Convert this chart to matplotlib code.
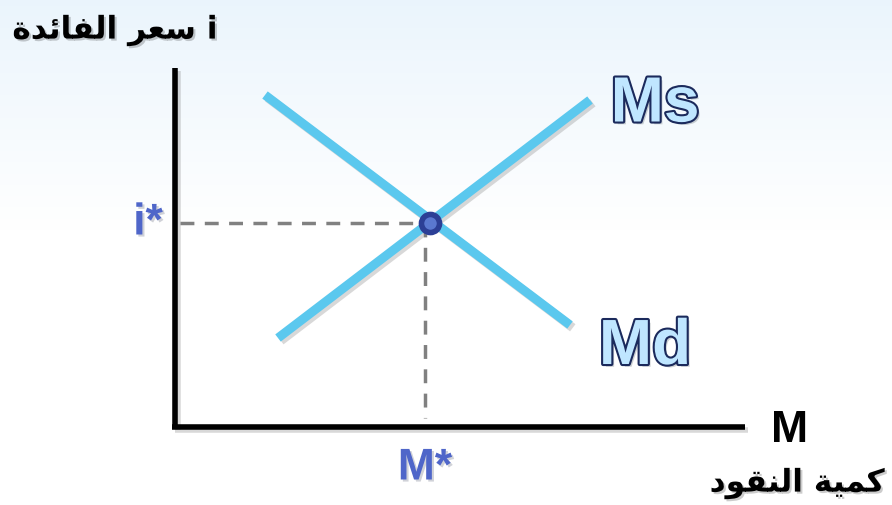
import numpy as np
import matplotlib
matplotlib.use("Agg")
import matplotlib.pyplot as plt
import matplotlib.patheffects as pe

# money market: supply / demand of money (quantity M, interest rate i)
ms_q = [2.06, 8.3]
ms_i = [1.78, 6.54]
md_q = [1.8, 7.9]
md_i = [6.64, 2.04]
eq_q = 5.1
eq_i = 4.08

# Arabic labels in presentation forms (visual order) since matplotlib does not shape Arabic
y_label = "\uFE93\uFEAA\uFE8B\uFE8E\uFED4\uFEDF\uFE8D \uFEAE\uFECC\uFEB3"  # سعر الفائدة
x_label = "\uFEA9\uFEEE\uFED8\uFEE8\uFEDF\uFE8D \uFE94\uFEF4\uFEE4\uFEDB"  # كمية النقود

fig = plt.figure(figsize=(8.92, 5.05), dpi=100)
ax = fig.add_axes([0, 0, 1, 1])
ax.set_xlim(-3.5, 14.34)
ax.set_ylim(-1.56, 8.54)
ax.axis("off")

# soft blue-to-white background
grad = np.linspace(0, 1, 256).reshape(-1, 1)
grad = np.clip(grad * 2.2, 0, 1)
top = np.array([0.92, 0.96, 0.99])
img = top + (1 - top) * grad[..., None]
ax.imshow(img, extent=(-3.5, 14.34, -1.56, 8.54), aspect="auto", zorder=0,
          origin="upper")

shadow = [pe.SimpleLineShadow(offset=(2, -2), alpha=0.3, shadow_color="gray"), pe.Normal()]
txt_shadow = [pe.withSimplePatchShadow(offset=(1.5, -1.5), alpha=0.2)]

# axes lines
ax.plot([0, 0], [0, 7.18], color="black", lw=4, solid_capstyle="butt",
        path_effects=shadow, zorder=3)
ax.plot([-0.06, 11.4], [0, 0], color="black", lw=4, solid_capstyle="butt",
        path_effects=shadow, zorder=3)

# curves
curve_kw = dict(color="#5BC8EE", lw=6.5, solid_capstyle="butt", path_effects=shadow, zorder=4)
ax.plot(ms_q, ms_i, **curve_kw)
ax.plot(md_q, md_i, **curve_kw)

# dashed guides
ax.plot([0.1, eq_q], [eq_i, eq_i], color="#808080", lw=2.5, ls=(0, (4, 3)), zorder=2)
ax.plot([eq_q - 0.1, eq_q - 0.1], [eq_i, 0.18], color="#808080", lw=2.5, ls=(0, (4, 3)), zorder=2)

# equilibrium point
ax.scatter([eq_q], [eq_i], s=170, color="#5A78D0", edgecolors="#2C3F96", linewidths=4, zorder=6)

# labels
star_kw = dict(color="#4F66C9", fontsize=32, fontweight="bold", family="Liberation Sans",
               path_effects=txt_shadow)
ax.text(-0.54, eq_i, "i*", ha="center", va="center", **star_kw)
ax.text(eq_q - 0.1, -0.82, "M*", ha="center", va="center", **star_kw)

curve_lbl = dict(color="#BFE6FF", fontsize=46, fontweight="bold", family="Liberation Sans",
                 ha="center", va="center",
                 path_effects=[pe.withSimplePatchShadow(offset=(2, -2), alpha=0.25),
                               pe.Stroke(linewidth=3, foreground="#1B2A5C"), pe.Normal()])
ax.text(9.6, 6.45, "Ms", **curve_lbl)
ax.text(9.4, 1.6, "Md", **curve_lbl)

ax.text(12.3, -0.06, "M", color="black", fontsize=32, fontweight="bold",
        family="Liberation Sans", ha="center", va="center")
ax.text(14.2, -1.13, x_label, color="black", fontsize=22.5, fontweight="bold",
        family=["DejaVu Sans"], ha="right", va="center", path_effects=txt_shadow)
ax.text(-1.2, 7.93, y_label + " i", color="black", fontsize=22.5, fontweight="bold",
        family=["DejaVu Sans"], ha="center", va="center", path_effects=txt_shadow)

fig.savefig("out.png", dpi=100)
